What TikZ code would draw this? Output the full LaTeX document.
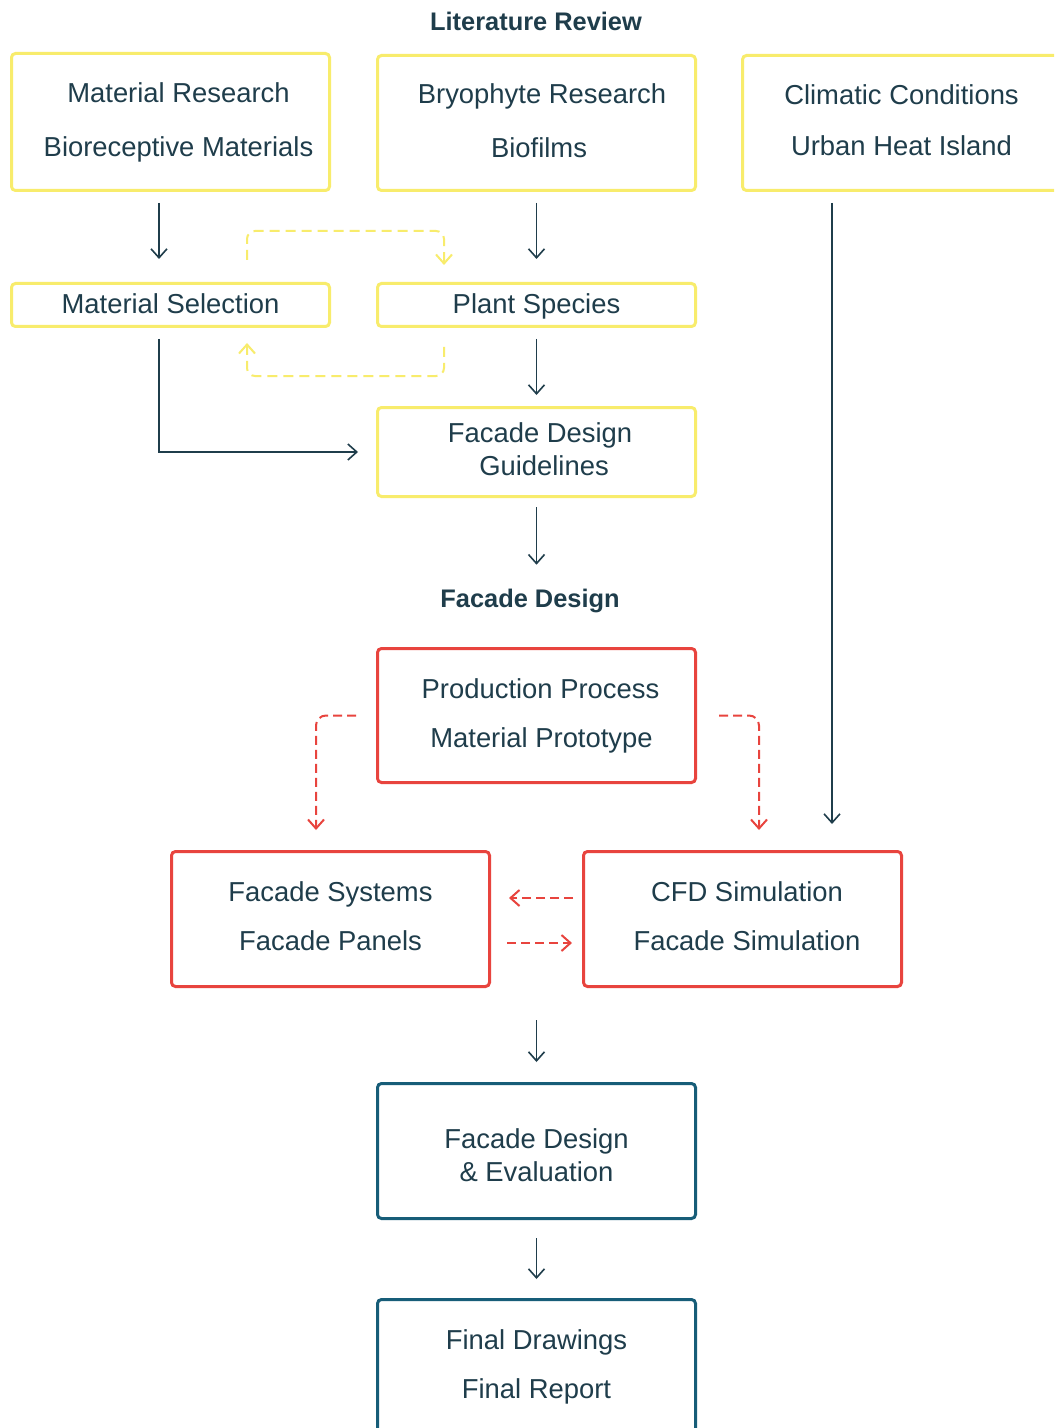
\documentclass[tikz,border=0pt]{standalone}
\usepackage{fontspec}
\setmainfont{Liberation Sans}
\usetikzlibrary{arrows.meta}

\definecolor{txt}{HTML}{1F3D4B}
\definecolor{ylw}{HTML}{F8EC6C}
\definecolor{rd}{HTML}{E8443E}
\definecolor{tl}{HTML}{175D78}

\begin{document}
\begin{tikzpicture}[x=0.5pt, y=-0.5pt,
  every node/.style={text=txt, font=\fontsize{13.7}{16.5}\selectfont},
  box/.style={draw, line width=1.5pt, rounded corners=2pt, minimum width=159pt, align=center, inner sep=0pt,
    execute at begin node=\rule{0pt}{11pt}, execute at end node=\rule[-2.7pt]{0pt}{2.7pt}},
  ybox/.style={box, draw=ylw},
  rbox/.style={box, draw=rd},
  tbox/.style={box, draw=tl},
  ttl/.style={inner sep=0pt, font=\bfseries\fontsize{12.7}{15}\selectfont},
  arr/.style={draw=txt, line width=0.8pt, -{Straight Barb[length=4.5pt,width=8pt]}},
  ydash/.style={arr, draw=ylw, line width=1pt, dash pattern=on 5pt off 3pt, rounded corners=4pt},
  rdash/.style={arr, draw=rd, line width=1pt, dash pattern=on 4.5pt off 2.5pt, rounded corners=5pt}]

\useasboundingbox (0,0) rectangle (1054,1428);
\clip (0,0) rectangle (1054,1428);
\fill[white] (0,0) rectangle (1054,1428);

% literature review
\node[ttl] (tlit) at (536,21) {Literature Review};

\node[ybox, minimum height=68.5pt] (mr) at (170.5,122) {\hspace*{8pt}Material Research\\[10.5pt]\hspace*{8pt}Bioreceptive Materials};
\node[ybox, minimum height=67.5pt] (br) at (536.5,123) {\hspace*{5.5pt}Bryophyte Research\\[10.5pt]\hspace*{2.5pt}Biofilms};
\node[ybox, minimum height=67.5pt] (cc) at (901.5,123) {Climatic Conditions\\[9pt]Urban Heat Island};

\node[ybox, minimum height=21.5pt] (ms) at (170.5,305) {Material Selection};
\node[ybox, minimum height=21.5pt] (ps) at (536.5,305) {Plant Species};
\node[ybox, minimum height=44.5pt] (fg) at (536.5,452) {\hspace*{3.5pt}Facade Design\\\hspace*{7.5pt}Guidelines};

\draw[arr, shorten <=5.5pt, shorten >=11.5pt] ([xshift=-5.75pt]mr.south) -- ([xshift=-5.75pt]ms.north);
\draw[arr, shorten <=5.5pt, shorten >=11.5pt] (br.south) -- (ps.north);
\draw[ydash, shorten <=11pt, shorten >=8.5pt] ([xshift=38.25pt]ms.north) -- ++(0,-51) -| ([xshift=-46.25pt]ps.north);
\draw[ydash, shorten <=9.5pt, shorten >=7.5pt] ([xshift=-46.25pt]ps.south) -- ++(0,48) -| ([xshift=38.25pt]ms.south);
\draw[arr, shorten <=5.5pt, shorten >=5.5pt] (ps.south) -- (fg.north);
\draw[arr, shorten <=5.5pt, shorten >=9pt] ([xshift=-5.75pt]ms.south) |- (fg.west);

% facade design
\node[ttl] (tdes) at (530,601) {Facade Design};
\draw[arr, shorten <=4.5pt, shorten >=12pt] (fg.south) -- (fg.south |- tdes.north);

\node[rbox, minimum height=67pt] (pp) at (536.5,715.5) {\hspace*{4pt}Production Process\\[8pt]\hspace*{5pt}Material Prototype};
\node[rbox, minimum height=67.5pt] (fs) at (330.5,919) {Facade Systems\\[8pt]Facade Panels};
\node[rbox, minimum height=67.5pt] (cfd) at (742.5,919) {\hspace*{4.5pt}CFD Simulation\\[8pt]\hspace*{4.5pt}Facade Simulation};

\draw[arr, shorten <=5.5pt, shorten >=13pt] ([xshift=-34.75pt]cc.south) -- ([xshift=44.75pt]cfd.north);
\draw[rdash, shorten <=10pt, shorten >=10pt] (pp.west) -| ([xshift=-7.25pt]fs.north);
\draw[rdash, shorten <=11pt, shorten >=10pt] (pp.east) -| ([xshift=8.25pt]cfd.north);
\draw[rdash, shorten <=4.5pt, shorten >=9pt] ([yshift=10.5pt]cfd.west) -- ([yshift=10.5pt]fs.east);
\draw[rdash, shorten <=8pt, shorten >=5pt] ([yshift=-12pt]fs.east) -- ([yshift=-12pt]cfd.west);

\node[tbox, minimum height=67.5pt] (fe) at (536.5,1151) {\rule{0pt}{16.5pt}Facade Design\\\& Evaluation};
\node[tbox, minimum height=67.5pt] (fd) at (536.5,1367) {Final Drawings\\[8pt]Final Report};

\draw[arr, shorten <=16pt, shorten >=10pt] (fe.north |- fs.south) -- (fe.north);
\draw[arr, shorten <=9pt, shorten >=9.5pt] (fe.south) -- (fd.north);

\end{tikzpicture}
\end{document}
